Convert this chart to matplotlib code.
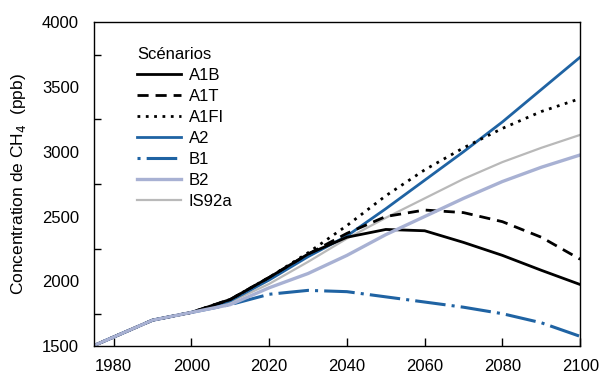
import matplotlib
matplotlib.use("Agg")
import matplotlib.pyplot as plt
from matplotlib.ticker import MultipleLocator, FixedLocator

plt.rcParams['font.family'] = ['Liberation Sans', 'DejaVu Sans']

# Years shared by every scenario
years = [1975, 1980, 1990, 2000, 2010, 2020, 2030, 2040, 2050,
         2060, 2070, 2080, 2090, 2100]

# Observed history up to 2000, same for all scenarios
hist = [1505, 1570, 1700, 1760]

a1b = hist + [1860, 2030, 2210, 2340, 2400, 2390, 2300, 2200, 2085, 1975]
a1t = hist + [1860, 2030, 2210, 2370, 2500, 2550, 2530, 2460, 2340, 2170]
a1fi = hist + [1860, 2030, 2220, 2430, 2660, 2860, 3030, 3180, 3310, 3410]
a2 = hist + [1850, 2010, 2190, 2350, 2560, 2780, 3000, 3230, 3480, 3730]
b1 = hist + [1820, 1900, 1930, 1920, 1880, 1840, 1800, 1750, 1680, 1575]
b2 = hist + [1820, 1950, 2060, 2200, 2360, 2500, 2640, 2770, 2880, 2975]
is92a = hist + [1840, 1980, 2150, 2330, 2490, 2640, 2790, 2920, 3030, 3130]

blue = "#1f63a3"

fig = plt.figure(figsize=(6, 3.88), dpi=100)
ax = fig.add_axes([0.157, 0.108, 0.81, 0.835])

ax.plot(years, is92a, color="#b9b9b9", lw=1.6, label="IS92a")
ax.plot(years, b1, color=blue, lw=2.2, linestyle=(0, (1, 2, 10, 2)), label="B1")
ax.plot(years, a2, color=blue, lw=2.0, label="A2")
ax.plot(years, a1fi, color="black", lw=2.0, linestyle=(0, (1, 2)), label="A1FI")
ax.plot(years, a1t, color="black", lw=2.0, linestyle=(0, (4, 2.5)), label="A1T")
ax.plot(years, a1b, color="black", lw=2.0, label="A1B")
ax.plot(years, b2, color="#a8b1d3", lw=2.4, label="B2")

ax.set_xlim(1975, 2100)
ax.set_ylim(1500, 4000)

ax.xaxis.set_major_locator(FixedLocator([1980, 2000, 2020, 2040, 2060, 2080, 2100]))
ax.yaxis.set_major_locator(MultipleLocator(500))
ax.yaxis.set_minor_locator(FixedLocator([1750, 2250, 2750, 3250, 3750]))
ax.tick_params(axis="x", direction="in", length=6, width=1, labelsize=12, pad=9)
ax.tick_params(axis="y", which="major", direction="in", length=0, labelsize=12, pad=11)
ax.tick_params(axis="y", which="minor", direction="in", length=5, width=1)
for s in ax.spines.values():
    s.set_linewidth(1.0)

ax.set_ylabel("Concentration de CH$_4$  (ppb)", fontsize=12.5, labelpad=10)

handles, labels = ax.get_legend_handles_labels()
order = ["A1B", "A1T", "A1FI", "A2", "B1", "B2", "IS92a"]
hmap = dict(zip(labels, handles))
leg = ax.legend([hmap[k] for k in order], order, title="Scénarios",
                loc="upper left", bbox_to_anchor=(0.075, 0.945), frameon=False,
                fontsize=12, title_fontsize=12, handlelength=2.6,
                labelspacing=0.36, handletextpad=0.5, borderaxespad=0)
leg._legend_box.align = "left"

fig.savefig("out.png", dpi=100)
